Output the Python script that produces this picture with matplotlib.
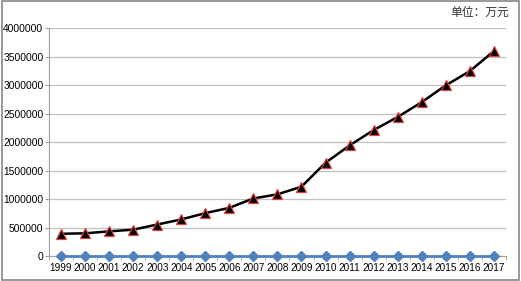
import matplotlib.pyplot as plt
import numpy as np

plt.rcParams['font.family'] = ['Liberation Sans', 'DejaVu Sans']

years = [str(y) for y in range(1999, 2018)]
total = [390000, 398000, 432000, 462000, 552000, 642000, 752000, 845000,
         1010000, 1082000, 1216000, 1637000, 1940000, 2210000, 2440000,
         2700000, 2995000, 3245000, 3596000]
other = [0] * len(years)
yticks = [0, 500000, 1000000, 1500000, 2000000, 2500000, 3000000, 3500000, 4000000]

fig = plt.figure(figsize=(5.21, 2.81), dpi=100)
ax = fig.add_axes([0.094, 0.089, 0.877, 0.811])

x = np.arange(len(years))
ax.plot(x, other, color="#4f81bd", lw=2, marker="D", ms=5,
        mfc="#4f81bd", mec="#4f81bd", zorder=3, clip_on=False)
ax.plot(x, total, color="black", lw=1.8, marker="^", ms=7,
        mfc="black", mec="#e0403a", mew=0.9, zorder=4, clip_on=False)

ax.set_xlim(-0.5, len(years) - 0.5)
ax.set_ylim(0, 4000000)
ax.set_yticks(yticks)
ax.set_yticklabels([str(v) for v in yticks], fontsize=7.4)
ax.set_xticks(x)
ax.set_xticklabels(years, fontsize=7.2)
ax.set_xticks(np.arange(-0.5, len(years), 1), minor=True)
ax.tick_params(axis="x", which="major", length=0, pad=5)
ax.tick_params(axis="x", which="minor", length=3, color="#a0a0a0")
ax.tick_params(axis="y", length=3, color="#a0a0a0", pad=1)
ax.grid(True, axis="y", color="#c0c0c0", lw=0.9)
ax.set_axisbelow(True)
for s in ["top", "right"]:
    ax.spines[s].set_visible(False)
ax.spines["left"].set_color("#a0a0a0")
ax.spines["bottom"].set_color("#a0a0a0")

fig.text(0.977, 0.957, "单位：万元", ha="right", va="center", fontsize=8.5,
         family=["Noto Sans CJK SC", "DejaVu Sans"], color="#333333")

border = plt.Rectangle((0.003, 0.004), 0.993, 0.991, transform=fig.transFigure,
                       fill=False, edgecolor="#888888", lw=1.2)
fig.patches.append(border)

fig.savefig("out.png", dpi=100)
